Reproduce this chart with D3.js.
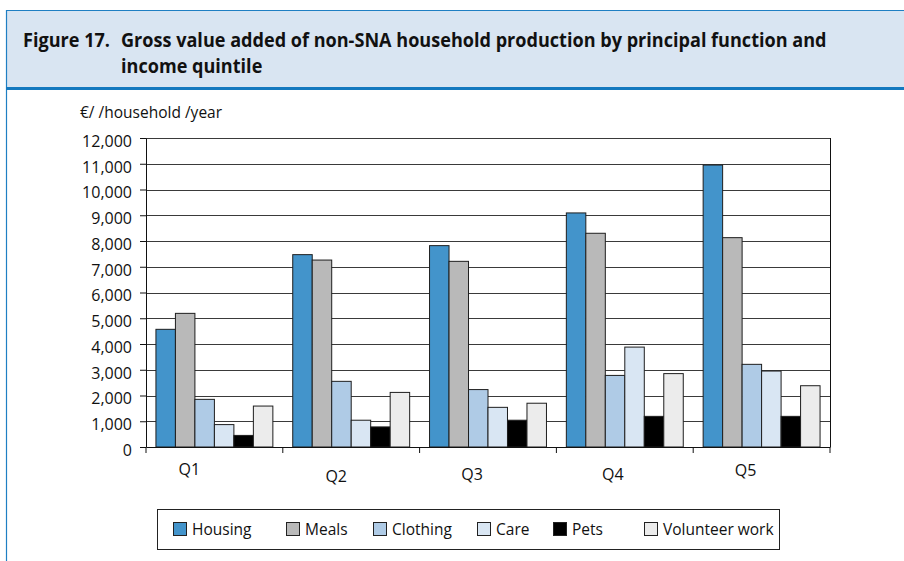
<!DOCTYPE html>
<html>
<head>
<meta charset="utf-8">
<script src="https://cdn.jsdelivr.net/npm/d3@7"></script>
<style>
  html, body { margin: 0; padding: 0; background: #fff; }
  svg { display: block; font-family: "Open Sans", sans-serif; }
</style>
</head>
<body>
<svg id="chart" width="904" height="561"></svg>
<script>
// ---- Data ----
const categories = ["Q1", "Q2", "Q3", "Q4", "Q5"];
const seriesNames = ["Housing", "Meals", "Clothing", "Care", "Pets", "Volunteer work"];
const housing   = [4570, 7470, 7820, 9090, 10950];
const meals     = [5190, 7260, 7210, 8300, 8130];
const clothing  = [1850, 2550, 2230, 2780, 3210];
const care      = [870, 1040, 1540, 3880, 2950];
const pets      = [450, 780, 1040, 1190, 1190];
const volunteer = [1590, 2120, 1700, 2850, 2380];
const yTickValues = [0, 1000, 2000, 3000, 4000, 5000, 6000, 7000, 8000, 9000, 10000, 11000, 12000];
const seriesColors = ["#4394cb", "#b9b9b9", "#afcbe6", "#d9e6f3", "#000000", "#ececec"];
const titleLine1a = "Figure 17.";
const titleLine1b = "Gross value added of non-SNA household production by principal function and";
const titleLine2 = "income quintile";
const unitLabel = "€/ /household /year";

// layout-only: label nudges as placed in the original (dx from band centre, dy below axis)
const xLabelDx = [-25, -15, -16, -12, -16];
const xLabelDy = [28, 34.5, 33, 33, 29];

const seriesValues = [housing, meals, clothing, care, pets, volunteer];
const table = categories.map((c, i) => ({
  cat: c,
  values: seriesNames.map((s, j) => ({ series: s, value: seriesValues[j][i], color: seriesColors[j] }))
}));

const svg = d3.select("#chart");

// ---- Header ----
svg.append("rect").attr("x", 7).attr("y", 10).attr("width", 904).attr("height", 78)
  .attr("fill", "#d9e5f2");
svg.append("line").attr("x1", 7).attr("x2", 904).attr("y1", 10.5).attr("y2", 10.5)
  .attr("stroke", "#1f7fc3").attr("stroke-width", 1);
svg.append("line").attr("x1", 6.5).attr("x2", 6.5).attr("y1", 10).attr("y2", 561)
  .attr("stroke", "#1f7fc3").attr("stroke-width", 1.2);
svg.append("line").attr("x1", 6).attr("x2", 904).attr("y1", 88.5).attr("y2", 88.5)
  .attr("stroke", "#1479bf").attr("stroke-width", 3);

const tg = svg.append("g").attr("font-weight", "bold").attr("font-size", 19.5).attr("fill", "#111");
const t1b = tg.append("text").attr("x", 0).attr("y", 0).text(titleLine1b);
const natural = t1b.node().getComputedTextLength();
const sx = 706 / natural;
t1b.attr("transform", `translate(121,47) scale(${sx},1)`);
tg.append("text").attr("transform", `translate(23,47) scale(${sx},1)`).text(titleLine1a);
tg.append("text").attr("transform", `translate(121,73) scale(${sx},1)`).text(titleLine2);

// ---- Chart ----
const plotL = 146, plotR = 830, plotT = 138, plotB = 447;

const x0 = d3.scaleBand().domain(categories).range([plotL, plotR]).paddingInner(0).paddingOuter(0);
const x1 = d3.scaleBand().domain(seriesNames).range([0, x0.bandwidth()]).paddingInner(0).paddingOuter(0.51);
const y = d3.scaleLinear().domain([0, 12000]).range([plotB, plotT]);

// unit label
svg.append("text").attr("x", 80).attr("y", 118).attr("font-size", 15.5).attr("fill", "#111")
  .text(unitLabel);

// gridlines
svg.append("g").selectAll("line").data(yTickValues.filter(d => d > 0)).join("line")
  .attr("x1", plotL).attr("x2", plotR)
  .attr("y1", d => Math.round(y(d)) + 0.5).attr("y2", d => Math.round(y(d)) + 0.5)
  .attr("stroke", "#3a3a3a").attr("stroke-width", 1);

// right border
svg.append("line").attr("x1", plotR + 0.5).attr("x2", plotR + 0.5).attr("y1", plotT).attr("y2", plotB)
  .attr("stroke", "#111");

// bars
const groups = svg.append("g").selectAll("g").data(table).join("g")
  .attr("transform", d => `translate(${x0(d.cat)},0)`);
groups.selectAll("rect").data(d => d.values).join("rect")
  .attr("x", d => x1(d.series))
  .attr("y", d => y(d.value))
  .attr("width", x1.bandwidth())
  .attr("height", d => y(0) - y(d.value))
  .attr("fill", d => d.color)
  .attr("stroke", "#1e1e1e")
  .attr("stroke-width", 1);

// y axis
const yAxis = d3.axisLeft(y).tickValues(yTickValues).tickSize(6).tickSizeOuter(0)
  .tickFormat(d3.format(","));
const yg = svg.append("g").attr("transform", `translate(${plotL},0)`).call(yAxis);
yg.select(".domain").attr("stroke", "#111");
yg.selectAll(".tick line").attr("stroke", "#111");
yg.selectAll(".tick text").attr("font-size", 16).attr("fill", "#111")
  .attr("font-family", "Open Sans, sans-serif").attr("x", -14).attr("dy", "0.52em");

// x axis
const xAxis = d3.axisBottom(x0).tickSize(0).tickSizeOuter(0);
const xg = svg.append("g").attr("transform", `translate(0,${plotB})`).call(xAxis);
xg.select(".domain").attr("stroke", "#111");
xg.selectAll(".tick text").attr("font-size", 16).attr("fill", "#111")
  .attr("font-family", "Open Sans, sans-serif")
  .attr("dx", (d, i) => xLabelDx[i]).attr("y", (d, i) => xLabelDy[i]).attr("dy", 0);
// category boundary ticks
xg.append("g").selectAll("line").data(categories.concat(["end"])).join("line")
  .attr("x1", (d, i) => i < categories.length ? x0(d) : plotR)
  .attr("x2", (d, i) => i < categories.length ? x0(d) : plotR)
  .attr("y1", 0).attr("y2", 6).attr("stroke", "#111");

// ---- Legend ----
const legendItemsX = [173, 286, 373, 477, 553, 644];
svg.append("rect").attr("x", 157.5).attr("y", 509.5).attr("width", 622).attr("height", 40)
  .attr("fill", "#fff").attr("stroke", "#222").attr("stroke-width", 1);
const lg = svg.append("g").selectAll("g").data(seriesNames).join("g")
  .attr("transform", (d, i) => `translate(${legendItemsX[i]},0)`);
lg.append("rect").attr("x", 0.5).attr("y", 522.5).attr("width", 13).attr("height", 13)
  .attr("fill", (d, i) => seriesColors[i]).attr("stroke", "#222");
lg.append("text").attr("x", 19).attr("y", 535).attr("font-size", 15.5).attr("fill", "#111")
  .text(d => d);
</script>
</body>
</html>
